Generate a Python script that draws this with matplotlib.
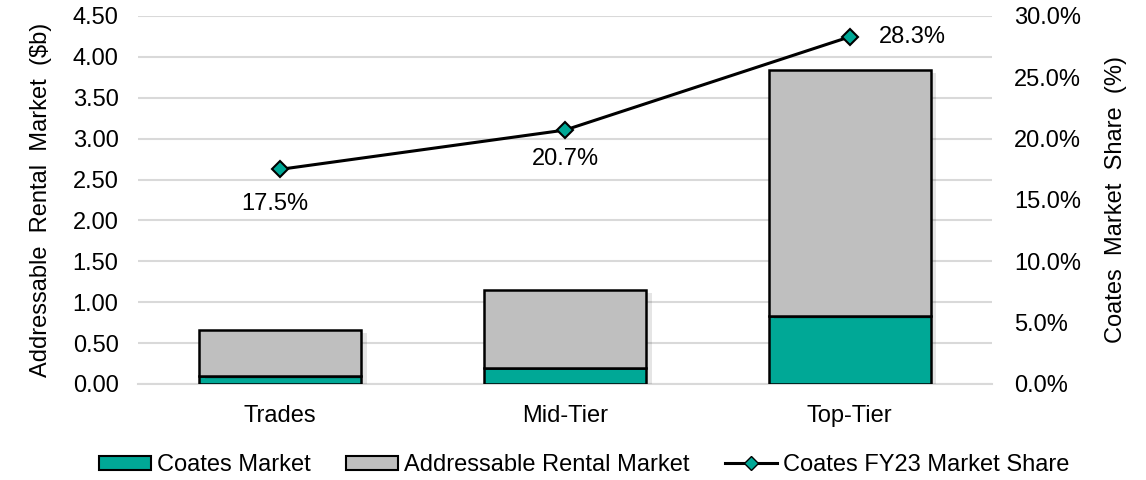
import matplotlib.pyplot as plt
import matplotlib.patheffects as pe
from matplotlib.lines import Line2D
from matplotlib.patches import Patch
import numpy as np

# === Data ===
categories = ["Trades", "Mid-Tier", "Top-Tier"]
coates_market = [0.10, 0.20, 0.83]
addressable_total = [0.66, 1.15, 3.84]
market_share = [17.5, 20.7, 28.3]

addressable_rest = [t - c for t, c in zip(addressable_total, coates_market)]

plt.rcParams["font.family"] = ["Liberation Sans", "DejaVu Sans"]
teal = "#00A896"
grey = "#BFBFBF"
fs = 17

fig, ax = plt.subplots(figsize=(11.46, 4.8), dpi=100)
fig.subplots_adjust(left=0.1204, right=0.8656, top=0.9667, bottom=0.2)

x = np.arange(len(categories))
shadow = [pe.SimplePatchShadow(offset=(4, -2), shadow_rgbFace="#000000", alpha=0.10), pe.Normal()]
b1 = ax.bar(x, coates_market, width=0.57, color=teal, edgecolor="black", linewidth=1.8, zorder=3)
b2 = ax.bar(x, addressable_rest, width=0.57, bottom=coates_market, color=grey,
            edgecolor="black", linewidth=1.8, zorder=3)
for r in list(b1) + list(b2):
    r.set_path_effects(shadow)

ax.set_ylim(0, 4.5)
ax.set_yticks(np.arange(0, 4.51, 0.5))
ax.set_yticklabels([f"{v:.2f}" for v in np.arange(0, 4.51, 0.5)])
ax.set_xlim(-0.5, 2.5)
ax.set_xticks(x)
ax.set_xticklabels(categories)
ax.grid(axis="y", color="#D9D9D9", linewidth=1.5, zorder=0)
ax.set_axisbelow(True)
for s in ["top", "right", "left"]:
    ax.spines[s].set_visible(False)
ax.spines["bottom"].set_color("#D9D9D9")
ax.spines["bottom"].set_linewidth(1.5)
ax.tick_params(axis="y", length=0, labelsize=fs, pad=14)
ax.tick_params(axis="x", length=0, labelsize=fs, pad=15)
ax.set_ylabel("Addressable  Rental  Market  ($b)", fontsize=fs, labelpad=15)

# Secondary axis for market share
ax2 = ax.twinx()
ax2.plot(x, market_share, color="black", linewidth=2.2, marker="D", markersize=8,
         markerfacecolor=teal, markeredgecolor="black", markeredgewidth=1.5, zorder=5)
ax2.set_ylim(0, 30)
ax2.set_yticks(np.arange(0, 30.1, 5))
ax2.set_yticklabels([f"{v:.1f}%" for v in np.arange(0, 30.1, 5)])
for s in ["top", "right", "left", "bottom"]:
    ax2.spines[s].set_visible(False)
ax2.tick_params(axis="y", length=0, labelsize=fs, pad=16)
ax2.set_ylabel("Coates  Market  Share  (%)", fontsize=fs, labelpad=17)

# Data labels
ax2.annotate(f"{market_share[0]:.1f}%", (x[0], market_share[0]), xytext=(-4, -25),
             textcoords="offset points", ha="center", va="center", fontsize=fs)
ax2.annotate(f"{market_share[1]:.1f}%", (x[1], market_share[1]), xytext=(0, -21),
             textcoords="offset points", ha="center", va="center", fontsize=fs)
ax2.annotate(f"{market_share[2]:.1f}%", (x[2], market_share[2]), xytext=(21, 0),
             textcoords="offset points", ha="left", va="center", fontsize=fs)

# Legend
handles = [
    Patch(facecolor=teal, edgecolor="black", linewidth=1.5, label="Coates Market"),
    Patch(facecolor=grey, edgecolor="black", linewidth=1.5, label="Addressable Rental Market"),
    Line2D([0], [0], color="black", linewidth=2.2, marker="D", markersize=7,
           markerfacecolor=teal, markeredgecolor="black", label="Coates FY23 Market Share"),
]
fig.legend(handles=handles, loc="center", bbox_to_anchor=(0.51, 0.031), ncol=3,
           frameon=False, fontsize=fs, handlelength=2.2, handleheight=0.55, handletextpad=0.25,
           columnspacing=1.5, borderpad=0.1)

plt.savefig("out.png", dpi=100)
